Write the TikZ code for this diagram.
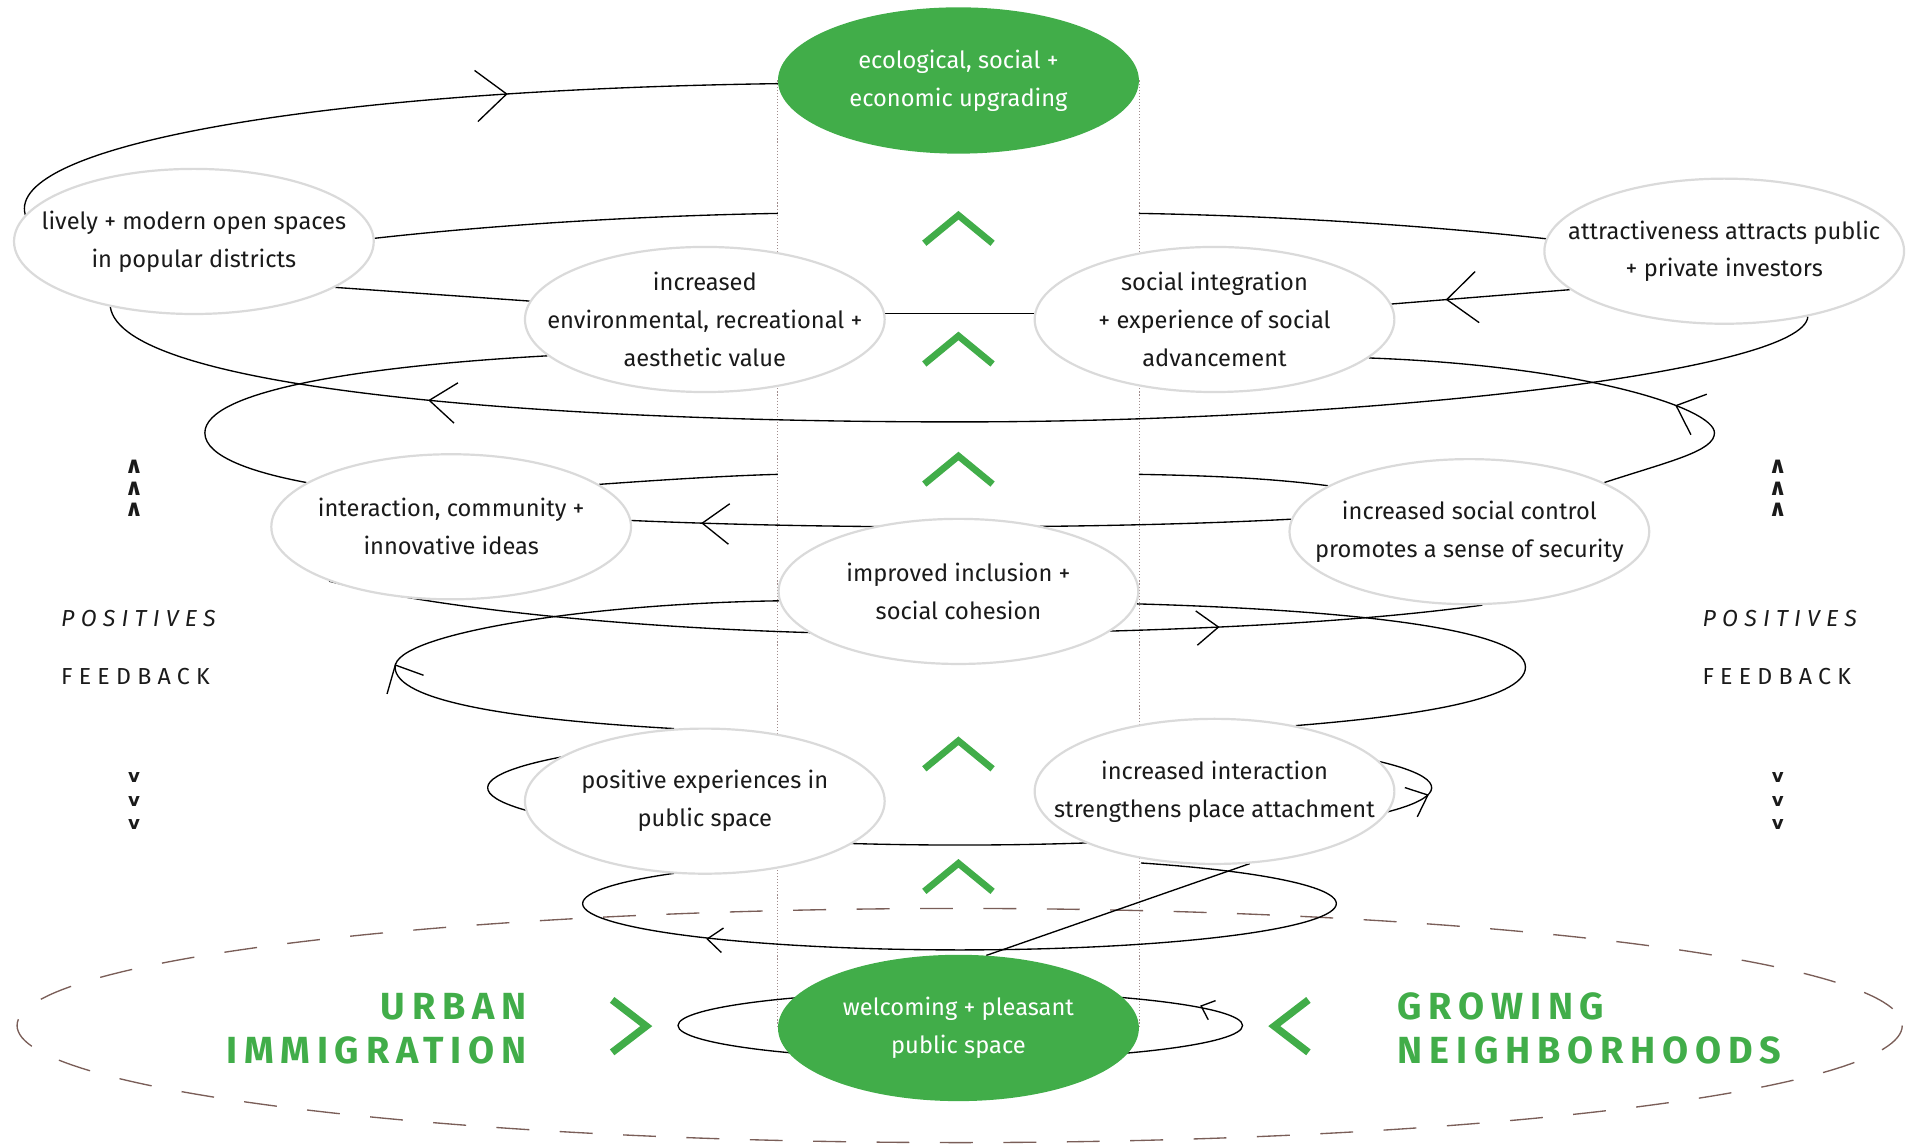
\documentclass[tikz,border=0pt]{standalone}
\usepackage{fontspec}
\setmainfont{Fira Sans}
\newfontfamily\symfont{DejaVu Sans}
\usetikzlibrary{shapes.geometric}

\pgfdeclarelayer{back}
\pgfsetlayers{back,main}

\definecolor{leaf}{HTML}{41AD49}
\definecolor{ringgray}{HTML}{DADADA}
\definecolor{ink}{HTML}{1A1A1A}
\definecolor{rimbrown}{HTML}{7A5E58}
\definecolor{axisdot}{HTML}{A08C8C}

\newcommand\ideafont{\fontsize{19.4}{31}\selectfont}
\newcommand\bigtag{\fontsize{31}{36}\selectfont\bfseries\addfontfeatures{LetterSpace=18}}
\newcommand\sidetag{\fontsize{19}{24}\selectfont\addfontfeatures{LetterSpace=27}}
\newcommand\sidetagit{\fontsize{19}{24}\selectfont\itshape\addfontfeatures{LetterSpace=27}}
\newcommand\caretfont{\symfont\bfseries\fontsize{19}{19}\selectfont}
\newcommand\veefont{\symfont\bfseries\fontsize{15}{15}\selectfont}

\begin{document}
\begin{tikzpicture}[x=1pt, y=-1pt,
  idea/.style={ellipse, draw=ringgray, line width=1.8pt, fill=white,
    minimum width=295pt, minimum height=119pt, inner xsep=-70pt, inner ysep=0pt,
    align=center, font=\ideafont, text=ink},
  core/.style={ellipse, fill=leaf, minimum width=296pt, minimum height=120pt,
    inner xsep=-70pt, inner ysep=0pt, align=center, font=\ideafont, text=white},
  link/.style={draw=black, line width=1.1pt},
  axis/.style={draw=axisdot, line width=0.9pt, dash pattern=on 0.9pt off 1.6pt},
  rim/.style={draw=rimbrown, line width=1.1pt, dash pattern=on 27pt off 25pt},
  chevline/.style={draw=leaf, line width=5.5pt, line join=miter, line cap=butt},
  tag/.style={inner sep=0pt, text=leaf, font=\bigtag},
  sidelabel/.style={inner sep=0pt, text=ink},
  barb/.pic={\draw[line width=1.1pt, line join=miter] (-25,21) -- (0,0) -- (-25,-21);},
  upchev/.pic={\draw[chevline] (-28,23) -- (0,0) -- (28,23);},
]
\useasboundingbox (0,0) rectangle (1568,938);

% ---------- idea bubbles of the spiral ----------
\node[core] (eco) at (786,66) {ecological, social +\\economic upgrading};
\node[idea] (lively) at (159,198) {lively + modern open spaces\\in popular districts};
\node[idea] (envval) at (578,262) {increased\\environmental, recreational +\\aesthetic value};
\node[idea] (socint) at (996,262) {social integration\\+ experience of social\\advancement};
\node[idea] (attract) at (1414,206) {attractiveness attracts public\\+ private investors};
\node[idea] (interact) at (370,432) {interaction, community +\\innovative ideas};
\node[idea] (secur) at (1205,436) {increased social control\\promotes a sense of security};
\node[idea] (inclus) at (786,485) {improved inclusion +\\social cohesion};
\node[idea] (posexp) at (578,657) {positive experiences in\\public space};
\node[idea] (placeatt) at (996,649) {increased interaction\\strengthens place attachment};
\node[core] (welcome) at (786,843) {welcoming + pleasant\\public space};

% points where the spiral disappears behind the central column
\coordinate (axL175) at (638,175);
\coordinate (axR175) at (934,175);
\coordinate (axL389) at (638,389);
\coordinate (axR389) at (934,389);

\begin{pgfonlayer}{back}
  % central column
  \draw[axis] (eco.west) -- (welcome.west);
  \draw[axis] (eco.east) -- (welcome.east);
  % outer dashed ring
  \draw[rim] (787,841) ellipse[x radius=773, y radius=96];

  % upper turns
  \draw[link] (lively.171) .. controls (5,120) and (255,74) .. (eco.181)
    pic[pos=0.79, sloped, allow upside down]{barb};
  \draw[link] (lively.1) .. controls (400,185) and (520,177) .. (axL175);
  \draw[link] (axR175) .. controls (1050,177) and (1170,185) .. (attract.176);
  \draw[link] (attract.194) -- (socint.5)
    pic[pos=0.69, sloped, allow upside down]{barb};
  \draw[link] (envval.2) -- (socint.178);
  \draw[link] (envval.174) -- (lively.342);
  \draw[link] (lively.218) .. controls (100,320) and (450,346) .. (786,346)
    pic[pos=0.545, sloped, allow upside down, xscale=-0.88, yscale=0.79]{barb}
    .. controls (1120,346) and (1480,305) .. (attract.322);
  \draw[link] (envval.193) .. controls (300,300) and (168,320) .. (168,355)
    .. controls (168,375) and (210,388) .. (interact.163);
  \draw[link] (secur.20) .. controls (1370,378) and (1406,370) .. (1406,355)
    .. controls (1406,335) and (1300,300) .. (socint.346)
    pic[pos=0.32, sloped, allow upside down, xscale=0.8, yscale=0.85]{barb};

  % middle turns
  \draw[link] (secur.176) .. controls (900,434) and (680,434) .. (interact.2)
    pic[pos=0.885, sloped, allow upside down, xscale=0.88, yscale=0.79]{barb};
  \draw[link] (interact.16) .. controls (550,393) and (600,390) .. (axL389);
  \draw[link] (axR389) .. controls (990,390) and (1040,392) .. (secur.162);
  \draw[link] (interact.204) .. controls (380,505) and (600,522) .. (786,520)
    .. controls (950,518) and (1100,512) .. (secur.280)
    pic[pos=0.455, sloped, allow upside down, xscale=0.72, yscale=0.67]{barb};
  \draw[link] (posexp.113) .. controls (420,590) and (324,575) .. (324,547)
    .. controls (324,520) and (480,495) .. (inclus.183)
    pic[pos=0.02, sloped, allow upside down, rotate=40, xscale=0.72, yscale=0.8]{barb};
  \draw[link] (inclus.356) .. controls (1100,500) and (1251,515) .. (1251,547)
    .. controls (1251,575) and (1150,588) .. (placeatt.39);

  % lower turns around the column
  \draw[link] (638.3,602.6) arc[start angle=247.4, end angle=-67.4, x radius=387, y radius=47];
  \pic[rotate=23, xscale=0.6, yscale=0.62] at (1171,652) {barb};
  \draw[link] (638,707.7) arc[start angle=241.2, end angle=-61.2, x radius=309, y radius=38];
  \pic[rotate=175, xscale=0.5, yscale=0.48] at (580,770) {barb};
  \draw[link] (welcome.69) -- (placeatt.296);
  \draw[link] (787.5,841) ellipse[x radius=231.5, y radius=28];
  \pic[rotate=159, xscale=0.38, yscale=0.4] at (985,825) {barb};
\end{pgfonlayer}

% ---------- upward chevrons in the column ----------
\pic at (786,176.5) {upchev};
\pic at (786,275.5) {upchev};
\pic at (786,374) {upchev};
\pic at (786,607.5) {upchev};
\pic at (786,708) {upchev};

% side chevrons pointing to the base
\draw[chevline, line width=6pt] (502,820) -- (530,841.5) -- (502,863);
\draw[chevline, line width=6pt] (1073,820) -- (1045,841.5) -- (1073,863);

% ---------- labels ----------
\node[tag, anchor=base east] (urban) at (432,836) {URBAN};
\node[tag, anchor=base east] (immig) at (432,872) {IMMIGRATION};
\node[tag, anchor=base west] (growing) at (1146,836) {GROWING};
\node[tag, anchor=base west] (neigh) at (1146,872) {NEIGHBORHOODS};

\node[sidelabel, anchor=base west, font=\sidetagit] (posL) at (50,513.5) {POSITIVES};
\node[sidelabel, anchor=base west, font=\sidetag] (feedL) at (50,561) {FEEDBACK};
\node[sidelabel, anchor=base west, font=\sidetagit] (posR) at (1396,513.5) {POSITIVES};
\node[sidelabel, anchor=base west, font=\sidetag] (feedR) at (1396,561) {FEEDBACK};

% small rising / falling markers beside the feedback labels
\node[sidelabel, font=\caretfont] (upL1) at (110,383) {∧};
\node[sidelabel, font=\caretfont] (upL2) at (110,400.5) {∧};
\node[sidelabel, font=\caretfont] (upL3) at (110,418) {∧};
\node[sidelabel, font=\caretfont] (upR1) at (1458,383) {∧};
\node[sidelabel, font=\caretfont] (upR2) at (1458,400.5) {∧};
\node[sidelabel, font=\caretfont] (upR3) at (1458,418) {∧};
\node[sidelabel, font=\veefont] (dnL1) at (110,638) {v};
\node[sidelabel, font=\veefont] (dnL2) at (110,657) {v};
\node[sidelabel, font=\veefont] (dnL3) at (110,676) {v};
\node[sidelabel, font=\veefont] (dnR1) at (1458,638) {v};
\node[sidelabel, font=\veefont] (dnR2) at (1458,657) {v};
\node[sidelabel, font=\veefont] (dnR3) at (1458,676) {v};
\end{tikzpicture}
\end{document}
